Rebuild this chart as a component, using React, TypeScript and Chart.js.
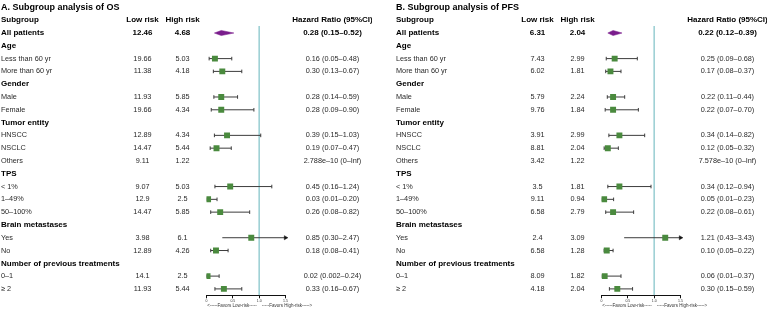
import React, { useEffect, useRef } from "react";
import { Chart, registerables } from "chart.js";

Chart.register(...registerables);

// ---------- data ----------
const subgroups = [
  "All patients", "Age", "Less than 60 yr", "More than 60 yr", "Gender", "Male", "Female",
  "Tumor entity", "HNSCC", "NSCLC", "Others", "TPS", "< 1%", "1–49%", "50–100%",
  "Brain metastases", "Yes", "No", "Number of previous treatments", "0–1", "≥ 2",
];
const boldRows = [
  true, true, false, false, true, false, false,
  true, false, false, false, true, false, false, false,
  true, false, false, true, false, false,
];
const headers = ["Subgroup", "Low risk", "High risk", "Hazard Ratio (95%CI)"];
const xTicks = [0, 0.5, 1, 1.5];
const favorsLow = "<-----Favors Low-risk-----";
const favorsHigh = "-----Favors High-risk----->";

// Panel A: OS
const osTitle = "A. Subgroup analysis of OS";
const osLow = ["12.46", "", "19.66", "11.38", "", "11.93", "19.66", "", "12.89", "14.47", "9.11", "", "9.07", "12.9", "14.47", "", "3.98", "12.89", "", "14.1", "11.93"];
const osHigh = ["4.68", "", "5.03", "4.18", "", "5.85", "4.34", "", "4.34", "5.44", "1.22", "", "5.03", "2.5", "5.85", "", "6.1", "4.26", "", "2.5", "5.44"];
const osHR = [0.28, null, 0.16, 0.30, null, 0.28, 0.28, null, 0.39, 0.19, 2.788e-10, null, 0.45, 0.03, 0.26, null, 0.85, 0.18, null, 0.02, 0.33];
const osLo = [0.15, null, 0.05, 0.13, null, 0.14, 0.09, null, 0.15, 0.07, 0, null, 0.16, 0.01, 0.08, null, 0.30, 0.08, null, 0.002, 0.16];
const osHi = [0.52, null, 0.48, 0.67, null, 0.59, 0.90, null, 1.03, 0.47, Infinity, null, 1.24, 0.20, 0.82, null, 2.47, 0.41, null, 0.24, 0.67];
const osHRText = [
  "0.28 (0.15–0.52)", "", "0.16 (0.05–0.48)", "0.30 (0.13–0.67)", "", "0.28 (0.14–0.59)", "0.28 (0.09–0.90)",
  "", "0.39 (0.15–1.03)", "0.19 (0.07–0.47)", "2.788e–10 (0–Inf)", "", "0.45 (0.16–1.24)", "0.03 (0.01–0.20)",
  "0.26 (0.08–0.82)", "", "0.85 (0.30–2.47)", "0.18 (0.08–0.41)", "", "0.02 (0.002–0.24)", "0.33 (0.16–0.67)",
];

// Panel B: PFS
const pfsTitle = "B. Subgroup analysis of PFS";
const pfsLow = ["6.31", "", "7.43", "6.02", "", "5.79", "9.76", "", "3.91", "8.81", "3.42", "", "3.5", "9.11", "6.58", "", "2.4", "6.58", "", "8.09", "4.18"];
const pfsHigh = ["2.04", "", "2.99", "1.81", "", "2.24", "1.84", "", "2.99", "2.04", "1.22", "", "1.81", "0.94", "2.79", "", "3.09", "1.28", "", "1.82", "2.04"];
const pfsHR = [0.22, null, 0.25, 0.17, null, 0.22, 0.22, null, 0.34, 0.12, 7.578e-10, null, 0.34, 0.05, 0.22, null, 1.21, 0.10, null, 0.06, 0.30];
const pfsLo = [0.12, null, 0.09, 0.08, null, 0.11, 0.07, null, 0.14, 0.05, 0, null, 0.12, 0.01, 0.08, null, 0.43, 0.05, null, 0.01, 0.15];
const pfsHi = [0.39, null, 0.68, 0.37, null, 0.44, 0.70, null, 0.82, 0.32, Infinity, null, 0.94, 0.23, 0.61, null, 3.43, 0.22, null, 0.37, 0.59];
const pfsHRText = [
  "0.22 (0.12–0.39)", "", "0.25 (0.09–0.68)", "0.17 (0.08–0.37)", "", "0.22 (0.11–0.44)", "0.22 (0.07–0.70)",
  "", "0.34 (0.14–0.82)", "0.12 (0.05–0.32)", "7.578e–10 (0–Inf)", "", "0.34 (0.12–0.94)", "0.05 (0.01–0.23)",
  "0.22 (0.08–0.61)", "", "1.21 (0.43–3.43)", "0.10 (0.05–0.22)", "", "0.06 (0.01–0.37)", "0.30 (0.15–0.59)",
];

// ---------- layout / style ----------
const X_MIN = 0;
const X_MAX = 1.5;
const Y_MIN = -2.19;
const Y_MAX = 20.5;
const TITLE_ROW = -2.01;
const HEADER_ROW = -1.05;
const REF_TOP = -0.55;
const DIAMOND_H = 0.2;
const COL_LABEL = 1;
const COL_LOW = 142.5;
const COL_HIGH = 182.5;
const COL_HR = 332.5;
const FONT = '"Liberation Sans", Arial, Helvetica, sans-serif';
const GREEN = "#4a8a3e";
const PURPLE = "#7a1d8c";
const TEAL = "#97cdd2";
const CI_COLOR = "#3c3c3c";

type PanelProps = {
  title: string;
  low: string[];
  high: string[];
  hr: (number | null)[];
  lo: (number | null)[];
  hi: (number | null)[];
  hrText: string[];
  left: number;
};

function ForestPanel({ title, low, high, hr, lo, hi, hrText, left }: PanelProps) {
  const ref = useRef<HTMLCanvasElement>(null);

  useEffect(() => {
    if (!ref.current) return;
    const idx = subgroups.map((_, i) => i);
    const plotRows = idx.filter(
      (i) => i !== 0 && hr[i] != null && lo[i] != null && hi[i] != null && isFinite(hi[i] as number)
    );

    const ciSets: any[] = plotRows.map((i) => ({
      type: "line",
      data: [
        { x: lo[i] as number, y: i },
        { x: Math.min(hi[i] as number, X_MAX), y: i },
      ],
      borderColor: CI_COLOR,
      borderWidth: 1,
      pointRadius: 0,
      showLine: true,
      order: 5,
    }));

    const caps: { x: number; y: number }[] = [];
    const arrows: { x: number; y: number }[] = [];
    plotRows.forEach((i) => {
      const h = hi[i] as number;
      if (h > X_MAX) {
        arrows.push({ x: X_MAX, y: i });
      } else {
        caps.push({ x: lo[i] as number, y: i });
        caps.push({ x: h, y: i });
      }
    });

    const boxes = plotRows.map((i) => ({ x: hr[i] as number, y: i }));
    const d0 = { est: hr[0] as number, l: lo[0] as number, h: hi[0] as number };

    const textPlugin = {
      id: "forestText",
      afterDraw(chart: any) {
        const { ctx, chartArea } = chart;
        const ys = chart.scales.y;
        const xs = chart.scales.x;
        ctx.save();
        ctx.textBaseline = "middle";
        ctx.fillStyle = "#000";
        ctx.textAlign = "left";
        ctx.font = `bold 9px ${FONT}`;
        ctx.fillText(title, COL_LABEL, ys.getPixelForValue(TITLE_ROW));

        const hy = ys.getPixelForValue(HEADER_ROW);
        ctx.font = `bold 8px ${FONT}`;
        ctx.fillText(headers[0], COL_LABEL, hy);
        ctx.textAlign = "center";
        ctx.fillText(headers[1], COL_LOW, hy);
        ctx.fillText(headers[2], COL_HIGH, hy);
        ctx.fillText(headers[3], COL_HR, hy);

        subgroups.forEach((label, i) => {
          const y = ys.getPixelForValue(i);
          const bold = boldRows[i];
          ctx.font = bold ? `bold 8px ${FONT}` : `7.3px ${FONT}`;
          ctx.fillStyle = bold ? "#000" : "#2a2a2a";
          ctx.textAlign = "left";
          ctx.fillText(label, COL_LABEL, y);
          ctx.textAlign = "center";
          if (low[i]) ctx.fillText(low[i], COL_LOW, y);
          if (high[i]) ctx.fillText(high[i], COL_HIGH, y);
          if (hrText[i]) ctx.fillText(hrText[i], COL_HR, y);
        });

        const fy = chartArea.bottom + 10.4;
        const x1 = xs.getPixelForValue(1);
        ctx.font = `4.5px ${FONT}`;
        ctx.fillStyle = "#333";
        ctx.textAlign = "right";
        ctx.fillText(favorsLow, x1 - 2.5, fy);
        ctx.textAlign = "left";
        ctx.fillText(favorsHigh, x1 + 2.5, fy);
        ctx.restore();
      },
    };

    const chart = new Chart(ref.current, {
      type: "scatter",
      data: {
        datasets: [
          {
            type: "line",
            data: [
              { x: 1, y: REF_TOP },
              { x: 1, y: Y_MAX },
            ],
            borderColor: TEAL,
            borderWidth: 1.5,
            pointRadius: 0,
            showLine: true,
            order: 10,
          } as any,
          ...ciSets,
          {
            data: caps,
            pointStyle: "line",
            rotation: 90,
            radius: 1.8,
            borderColor: CI_COLOR,
            borderWidth: 1,
            order: 4,
          } as any,
          {
            data: arrows,
            pointStyle: "triangle",
            rotation: 90,
            radius: 2.4,
            backgroundColor: "#111",
            borderColor: "#111",
            borderWidth: 0.5,
            clip: false,
            order: 3,
          } as any,
          {
            data: boxes,
            pointStyle: "rect",
            radius: 4.2,
            backgroundColor: GREEN,
            borderColor: GREEN,
            borderWidth: 0,
            order: 2,
          } as any,
          {
            type: "line",
            data: [
              { x: d0.l, y: 0 },
              { x: d0.est, y: -DIAMOND_H },
              { x: d0.h, y: 0 },
              { x: d0.est, y: DIAMOND_H },
              { x: d0.l, y: 0 },
            ],
            borderColor: PURPLE,
            backgroundColor: PURPLE,
            borderWidth: 0.5,
            pointRadius: 0,
            showLine: true,
            fill: "shape",
            tension: 0,
            order: 1,
          } as any,
        ],
      },
      options: {
        animation: false,
        responsive: false,
        devicePixelRatio: 1,
        layout: { padding: { left: 206.5, right: 86.5, top: 2, bottom: 5.2 } },
        plugins: { legend: { display: false }, tooltip: { enabled: false }, title: { display: false } },
        scales: {
          x: {
            type: "linear",
            min: X_MIN,
            max: X_MAX,
            position: "bottom",
            afterBuildTicks: (scale: any) => {
              scale.ticks = xTicks.map((v) => ({ value: v }));
            },
            border: { display: true, color: "#111", width: 1 },
            grid: { display: true, drawOnChartArea: false, drawTicks: true, tickLength: 3, color: "#111" },
            ticks: {
              autoSkip: false,
              maxRotation: 0,
              padding: 1,
              color: "#333",
              font: { size: 3.5, lineHeight: 1, family: FONT },
            },
          },
          y: {
            type: "linear",
            min: Y_MIN,
            max: Y_MAX,
            reverse: true,
            display: false,
          },
        },
      },
      plugins: [textPlugin],
    } as any);

    return () => chart.destroy();
  }, [title, low, high, hr, lo, hi, hrText]);

  return (
    <canvas
      ref={ref}
      width={372}
      height={309}
      style={{ position: "absolute", left, top: 0, width: 372, height: 309 }}
    />
  );
}

export default function App() {
  return (
    <div
      style={{
        position: "absolute",
        left: 0,
        top: 0,
        width: 768,
        height: 309,
        background: "#fff",
        overflow: "hidden",
      }}
    >
      <ForestPanel title={osTitle} low={osLow} high={osHigh} hr={osHR} lo={osLo} hi={osHi} hrText={osHRText} left={0} />
      <ForestPanel title={pfsTitle} low={pfsLow} high={pfsHigh} hr={pfsHR} lo={pfsLo} hi={pfsHi} hrText={pfsHRText} left={395} />
    </div>
  );
}
